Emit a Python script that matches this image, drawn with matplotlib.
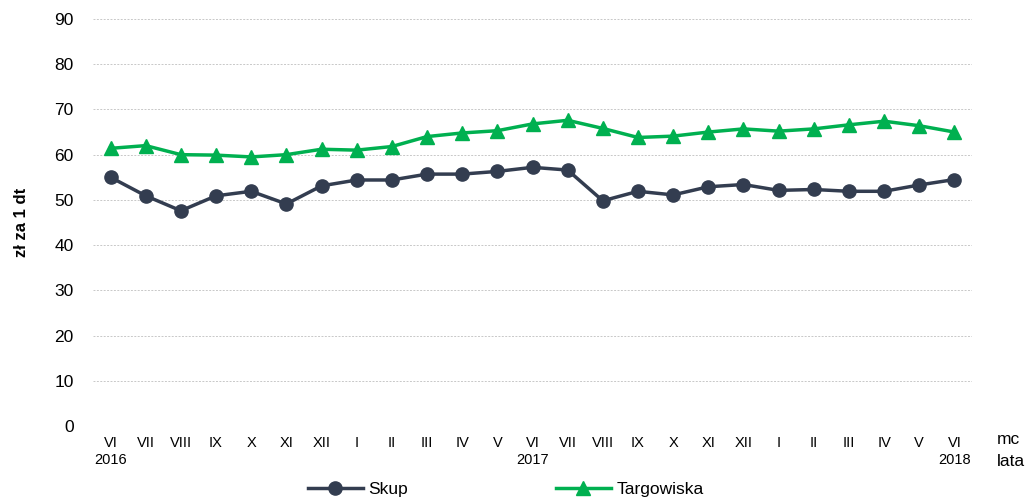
import matplotlib
matplotlib.use("Agg")
from matplotlib import pyplot as plt

plt.rcParams['font.family'] = ['Liberation Sans', 'DejaVu Sans']

# months VI 2016 .. VI 2018
months = ['VI', 'VII', 'VIII', 'IX', 'X', 'XI', 'XII', 'I', 'II', 'III', 'IV', 'V',
          'VI', 'VII', 'VIII', 'IX', 'X', 'XI', 'XII', 'I', 'II', 'III', 'IV', 'V', 'VI']
years = {0: '2016', 12: '2017', 24: '2018'}

skup = [55.0, 50.9, 47.6, 50.9, 51.9, 49.1, 53.1, 54.4, 54.4, 55.7, 55.7, 56.3,
        57.2, 56.6, 49.8, 51.9, 51.1, 52.9, 53.4, 52.1, 52.3, 51.9, 51.9, 53.3, 54.5]
targowiska = [61.4, 62.0, 60.0, 59.9, 59.5, 60.0, 61.2, 61.0, 61.8, 64.0, 64.8, 65.3,
              66.8, 67.6, 65.8, 63.8, 64.1, 65.0, 65.7, 65.2, 65.7, 66.6, 67.4, 66.4, 65.0]

x = list(range(len(months)))
labels = [m + ('\n' + years[i] if i in years else '') for i, m in enumerate(months)]

fig = plt.figure(figsize=(10.32, 4.97), dpi=100)
ax = fig.add_axes([93 / 1032, 1 - 426 / 497, 879 / 1032, 407 / 497])

ax.plot(x, skup, color='#333D50', lw=2.5, marker='o', ms=9.5, label='Skup', zorder=3)
ax.plot(x, targowiska, color='#00B050', lw=2.5, marker='^', ms=9.5, label='Targowiska', zorder=3)

ax.set_xlim(-0.5, 24.5)
ax.set_ylim(0, 90)
ax.set_yticks(range(0, 91, 10))
ax.set_xticks(x)
ax.set_xticklabels(labels, fontsize=10.5, linespacing=1.3)
ax.tick_params(axis='both', length=0)
ax.tick_params(axis='x', pad=7)
ax.tick_params(axis='y', labelsize=12.5, pad=14)
ax.grid(axis='y', color='#C8C8C8', ls=(0, (2, 1.5)), lw=0.7)
for s in ax.spines.values():
    s.set_visible(False)

ax.set_ylabel('zł za 1 dt', fontsize=12, fontweight='bold', labelpad=18)
fig.text(997 / 1032, 1 - 440 / 497, 'mc', fontsize=12.5, va='center')
fig.text(997 / 1032, 1 - 461 / 497, 'lata', fontsize=12.5, va='center')

fig.legend(loc='center', bbox_to_anchor=(0.49, 1 - 489 / 497), ncol=2, frameon=False,
           fontsize=12.5, columnspacing=8.5, handlelength=3.2, handletextpad=0.3)

fig.savefig('out.png', dpi=100)
